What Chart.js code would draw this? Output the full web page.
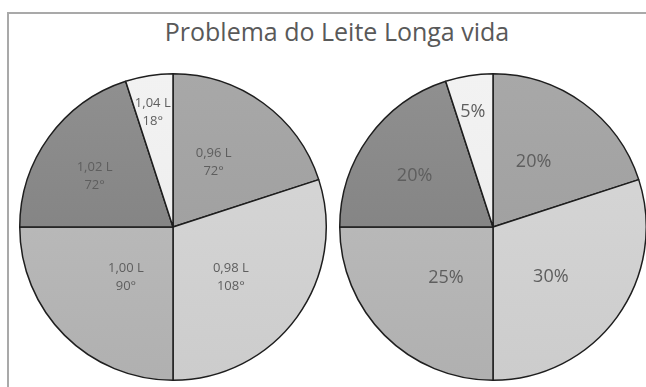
<!DOCTYPE html>
<html>
<head>
<meta charset="utf-8">
<script src="https://cdn.jsdelivr.net/npm/chart.js@4/dist/chart.umd.min.js"></script>
<style>
  html, body { margin: 0; padding: 0; width: 646px; height: 387px; overflow: hidden; background: #fff; }
  #frame { position: absolute; left: 7px; top: 12px; width: 700px; height: 500px; border: 2px solid #a9a9a9; border-right: none; border-bottom: none; box-sizing: border-box; }
  #title { position: absolute; left: 0; top: 14px; width: 674px; text-align: center; font-family: "Open Sans", sans-serif; font-size: 25px; color: #595959; white-space: nowrap; }
  .pie { position: absolute; width: 312px; height: 312px; }
  #leftWrap { left: 17px; top: 71px; }
  #rightWrap { left: 337px; top: 71px; }
</style>
</head>
<body>
<div id="frame"></div>
<div id="title">Problema do Leite Longa vida</div>
<div class="pie" id="leftWrap"><canvas id="left"></canvas></div>
<div class="pie" id="rightWrap"><canvas id="right"></canvas></div>
<script>
// ---- data ----
const categories = ['0,96 L', '0,98 L', '1,00 L', '1,02 L', '1,04 L'];
const degrees = [72, 108, 90, 72, 18];
const percentages = [20, 30, 25, 20, 5];

// ---- styles ----
const sliceTop = ['#a8a8a8', '#d9d9d9', '#c0c0c0', '#909090', '#f2f2f2'];
const sliceBottom = ['#9a9a9a', '#cccccc', '#b0b0b0', '#7a7a7a', '#ebebeb'];
// label placement: [fraction of radius, angle shift in degrees]
const labelPlacement = [[0.5, -4], [0.5, 5], [0.45, -2], [0.61, -3], [0.76, -1]];

function sliceFill(ctx) {
  const chart = ctx.chart;
  const area = chart.chartArea;
  if (!area) return sliceTop[ctx.dataIndex];
  const g = chart.ctx.createLinearGradient(0, area.top, 0, area.bottom);
  g.addColorStop(0, sliceTop[ctx.dataIndex]);
  g.addColorStop(1, sliceBottom[ctx.dataIndex]);
  return g;
}

const sliceLabels = {
  id: 'sliceLabels',
  afterDatasetsDraw(chart, args, opts) {
    const ctx = chart.ctx;
    const meta = chart.getDatasetMeta(0);
    ctx.save();
    ctx.fillStyle = opts.color;
    ctx.font = opts.font;
    ctx.textAlign = 'center';
    ctx.textBaseline = 'middle';
    meta.data.forEach((arc, i) => {
      const p = arc.getProps(['x', 'y', 'startAngle', 'endAngle', 'outerRadius'], true);
      const mid = (p.startAngle + p.endAngle) / 2 + labelPlacement[i][1] * Math.PI / 180;
      const r = p.outerRadius * labelPlacement[i][0];
      const cx = p.x + Math.cos(mid) * r;
      const cy = p.y + Math.sin(mid) * r;
      const lines = opts.text(i);
      const lh = opts.lineHeight;
      lines.forEach((t, k) => {
        ctx.fillText(t, cx, cy + (k - (lines.length - 1) / 2) * lh);
      });
    });
    ctx.restore();
  }
};

function makePie(id, values, textFn, font, lineHeight) {
  return new Chart(document.getElementById(id), {
    type: 'pie',
    data: {
      labels: categories,
      datasets: [{
        data: values,
        backgroundColor: sliceFill,
        borderColor: '#1e1e1e',
        borderWidth: 1.5
      }]
    },
    options: {
      responsive: true,
      maintainAspectRatio: false,
      animation: false,
      layout: { padding: 2 },
      plugins: {
        legend: { display: false },
        tooltip: { enabled: false },
        title: { display: false },
        sliceLabels: { color: '#5e5e5e', font: font, lineHeight: lineHeight, text: textFn }
      }
    },
    plugins: [sliceLabels]
  });
}

makePie('left', degrees, i => [categories[i], degrees[i] + '°'], '13px "Open Sans"', 18);
makePie('right', percentages, i => [percentages[i] + '%'], '18px "Open Sans"', 20);
</script>
</body>
</html>
